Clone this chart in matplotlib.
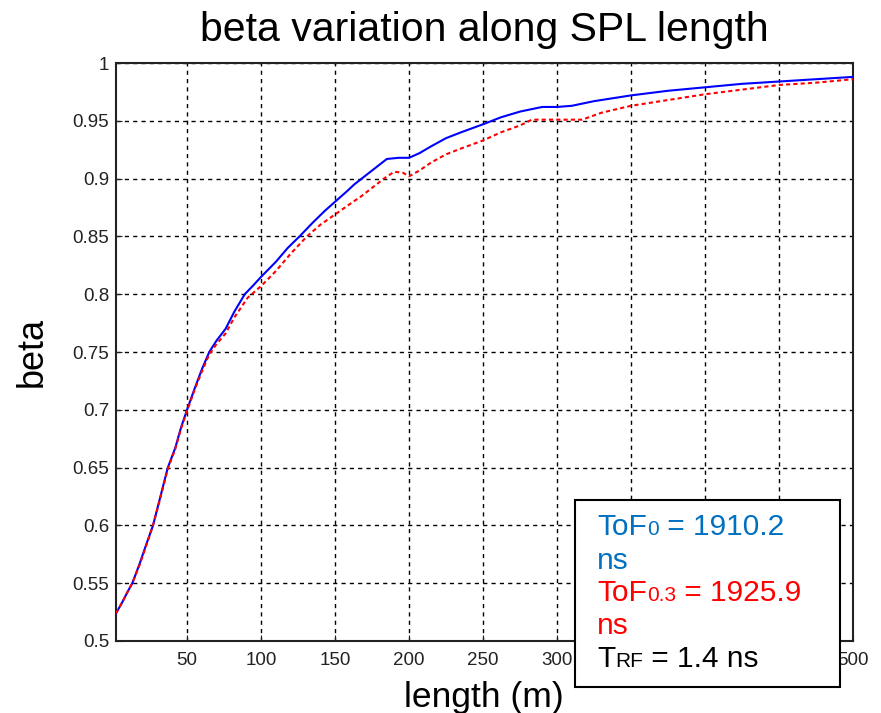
import matplotlib
matplotlib.use('Agg')
import matplotlib.pyplot as plt
from matplotlib.patches import Rectangle

plt.rcParams['font.family'] = ['Liberation Sans', 'DejaVu Sans']

# beta along SPL
len_b = [2, 6, 10, 13, 18, 22, 27, 32, 37, 42, 46, 50, 55, 60, 65, 70, 76, 82, 89, 95,
         100, 110, 118, 126, 135, 143, 150, 158, 163, 168, 174, 180, 185, 193, 200, 207,
         215, 225, 235, 250, 262, 275, 290, 300, 310, 325, 350, 375, 400, 425, 450, 475, 500]
beta_b = [0.524, 0.533, 0.543, 0.55, 0.567, 0.582, 0.6, 0.625, 0.65, 0.667, 0.685, 0.7,
          0.718, 0.735, 0.75, 0.76, 0.77, 0.785, 0.8, 0.808, 0.815, 0.828, 0.84, 0.85,
          0.862, 0.872, 0.88, 0.889, 0.895, 0.9, 0.906, 0.912, 0.917, 0.918, 0.918, 0.922,
          0.928, 0.935, 0.94, 0.947, 0.953, 0.958, 0.962, 0.962, 0.963, 0.967, 0.972,
          0.976, 0.979, 0.982, 0.984, 0.986, 0.988]

len_r = [2, 6, 10, 13, 18, 22, 27, 32, 37, 42, 46, 50, 55, 60, 65, 70, 76, 82, 91, 100,
         110, 120, 131, 140, 150, 160, 168, 175, 183, 190, 196, 200, 207, 215, 225, 235,
         250, 262, 275, 283, 300, 317, 330, 350, 375, 400, 425, 450, 475, 500]
beta_r = [0.524, 0.533, 0.543, 0.55, 0.566, 0.581, 0.6, 0.624, 0.649, 0.666, 0.684, 0.699,
          0.717, 0.733, 0.748, 0.757, 0.766, 0.78, 0.797, 0.807, 0.82, 0.835, 0.85, 0.86,
          0.869, 0.878, 0.885, 0.892, 0.9, 0.906, 0.905, 0.902, 0.907, 0.914, 0.921, 0.926,
          0.933, 0.94, 0.946, 0.951, 0.951, 0.951, 0.957, 0.963, 0.968, 0.973, 0.977,
          0.981, 0.983, 0.986]

xticks = [50, 100, 150, 200, 250, 300, 350, 400, 450, 500]
# 350..450 sit under the text box in the picture
xlabels = ['50', '100', '150', '200', '250', '300', '', '', '', '500']
yticks = [0.5, 0.55, 0.6, 0.65, 0.7, 0.75, 0.8, 0.85, 0.9, 0.95, 1]
ylabels = ['0.5', '0.55', '0.6', '0.65', '0.7', '0.75', '0.8', '0.85', '0.9', '0.95', '1']

fig = plt.figure(figsize=(8.81, 7.13), dpi=100)
ax = fig.add_axes([0.1317, 0.101, 0.8365, 0.8106])

ax.plot(len_b, beta_b, color='#0000ff', lw=1.5, zorder=3)
ax.plot(len_r, beta_r, color='#ff0000', lw=1.5, dashes=(2, 1.5), zorder=3)

ax.set_xlim(2, 500)
ax.set_ylim(0.5, 1)
ax.set_xticks(xticks)
ax.set_xticklabels(xlabels)
ax.set_yticks(yticks)
ax.set_yticklabels(ylabels)
ax.tick_params(direction='in', labelsize=13.5, length=4, colors='#222222')
ax.tick_params(axis='x', pad=8)
ax.tick_params(axis='y', pad=5)
ax.grid(True, color='black', ls=(0, (3, 3)), lw=1)
for s in ax.spines.values():
    s.set_linewidth(1.5)
    s.set_color('#222222')

ax.set_title('beta variation along SPL length', fontsize=29.5, pad=16)
ax.set_xlabel('length (m)', fontsize=25.5)
ax.set_ylabel('beta', fontsize=26)
ax.xaxis.set_label_coords(0.4993, -0.069)
ax.yaxis.set_label_coords(-0.0896, 0.5)

# text box
W, H = 881, 713
fig.patches.append(Rectangle((575 / W, 1 - 687 / H), 265 / W, 187 / H,
                             transform=fig.transFigure, facecolor='white',
                             edgecolor='black', lw=1.5, zorder=5))

blue_t = '#0070c0'
lines = [
    [('ToF', 21.5, blue_t), ('0', 15, blue_t), (' = 1910.2', 21.5, blue_t)],
    [('ns', 21.5, blue_t)],
    [('ToF', 21.5, 'red'), ('0.3', 15, 'red'), (' = 1925.9', 21.5, 'red')],
    [('ns', 21.5, 'red')],
    [('T', 21.5, 'black'), ('RF', 15, 'black'), (' = 1.4 ns', 21.5, 'black')],
]
baselines = [535, 569, 601, 634, 667]

fig.canvas.draw()
r = fig.canvas.get_renderer()
for parts, yb in zip(lines, baselines):
    x = 597
    for txt, sz, col in parts:
        t = fig.text(x / W, 1 - yb / H, txt, fontsize=sz, color=col,
                     va='baseline', ha='left', zorder=6)
        x += t.get_window_extent(r).width

fig.savefig('out.png', dpi=100)
